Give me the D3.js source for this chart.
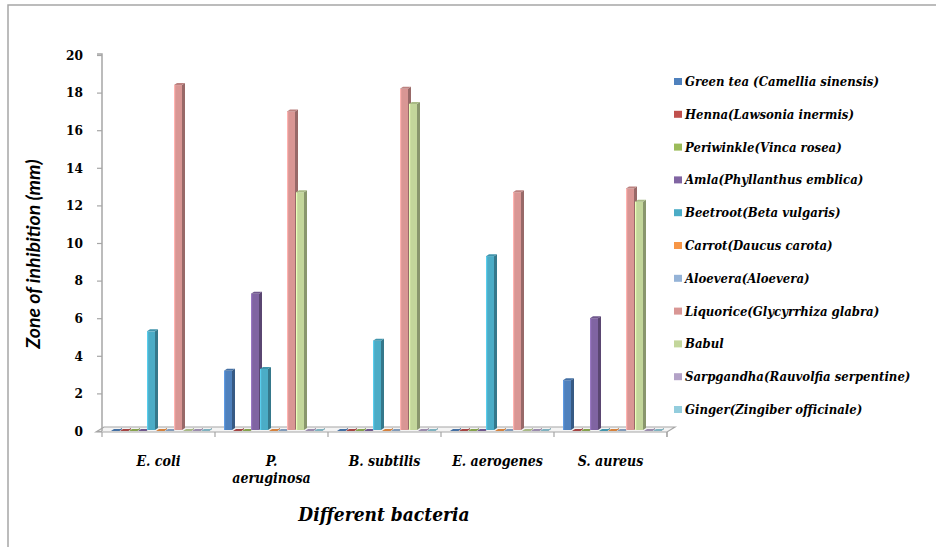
<!DOCTYPE html>
<html>
<head>
<meta charset="utf-8">
<script src="https://cdn.jsdelivr.net/npm/d3@7"></script>
<style>
  html, body { margin: 0; padding: 0; background: #fff; }
  svg { display: block; }
</style>
</head>
<body>
<svg id="chart" width="936" height="547"></svg>
<script>
// Bacteria tested (x-axis groups)
const bacteria = [["E. coli"], ["P.", "aeruginosa"], ["B. subtilis"], ["E. aerogenes"], ["S. aureus"]];

// Plant extracts (legend order)
const extracts = [
  "Green tea (Camellia sinensis)",
  "Henna(Lawsonia inermis)",
  "Periwinkle(Vinca rosea)",
  "Amla(Phyllanthus emblica)",
  "Beetroot(Beta vulgaris)",
  "Carrot(Daucus carota)",
  "Aloevera(Aloevera)",
  "Liquorice(Glycyrrhiza glabra)",
  "Babul",
  "Sarpgandha(Rauvolfia serpentine)",
  "Ginger(Zingiber officinale)"
];

const extractColors = ["#4F81BD", "#C0504D", "#9BBB59", "#8064A2", "#4BACC6", "#F79646",
                       "#95B3D7", "#D99694", "#C3D69B", "#B3A2C7", "#93CDDD"];

// Zone of inhibition (mm) for each extract, one value per bacterium
const greenTea   = [0, 3.2, 0, 0, 2.7];
const henna      = [0, 0, 0, 0, 0];
const periwinkle = [0, 0, 0, 0, 0];
const amla       = [0, 7.3, 0, 0, 6.0];
const beetroot   = [5.3, 3.3, 4.8, 9.3, 0];
const carrot     = [0, 0, 0, 0, 0];
const aloevera   = [0, 0, 0, 0, 0];
const liquorice  = [18.4, 17.0, 18.2, 12.7, 12.9];
const babul      = [0, 12.7, 17.4, 0, 12.2];
const sarpgandha = [0, 0, 0, 0, 0];
const ginger     = [0, 0, 0, 0, 0];

const yTicks = [0, 2, 4, 6, 8, 10, 12, 14, 16, 18, 20];

const seriesValues = [greenTea, henna, periwinkle, amla, beetroot, carrot,
                      aloevera, liquorice, babul, sarpgandha, ginger];

const svg = d3.select("#chart");
const serif = "'DejaVu Serif Condensed', 'DejaVu Serif', serif";

// Outer frame (top and left edges)
svg.append("path")
  .attr("d", "M8,547 L8,5 L936,5")
  .attr("fill", "none").attr("stroke", "#a6a6a6").attr("stroke-width", 1.5);

const plotLeft = 102, plotRight = 667, y0 = 431, yTop = 55;
const depthX = 8, depthY = 5;

const y = d3.scaleLinear().domain([0, 20]).range([y0, yTop]);
const x = d3.scaleBand().domain(d3.range(bacteria.length)).range([plotLeft, plotRight]);
const xs = d3.scaleBand().domain(d3.range(extracts.length))
  .range([9, 9 + 9 * extracts.length]);

// Floor of the 3-D plot
svg.append("path")
  .attr("d", `M${plotLeft - 6},${y0 + 1} L${plotRight},${y0 + 1} L${plotRight + depthX},${y0 + 1 - depthY} L${plotLeft + depthX - 6},${y0 + 1 - depthY} Z`)
  .attr("fill", "#f4f4f4").attr("stroke", "#a6a6a6").attr("stroke-width", 1.2);
svg.append("line")
  .attr("x1", plotRight).attr("x2", plotRight)
  .attr("y1", y0 + 1).attr("y2", y0 + 6)
  .attr("stroke", "#a6a6a6").attr("stroke-width", 1.2);

// Y axis
const yAxis = d3.axisLeft(y).tickValues(yTicks).tickSize(5).tickPadding(14);
const gy = svg.append("g").attr("transform", `translate(${plotLeft},0)`).call(yAxis);
gy.select(".domain").attr("stroke", "#a6a6a6").attr("stroke-width", 1.5)
  .attr("d", `M${-0},${y0} V${yTop - 1} H${-5}`);
gy.selectAll(".tick line").attr("stroke", "#a6a6a6").attr("stroke-width", 1.2);
gy.selectAll(".tick text")
  .attr("font-family", serif).attr("font-weight", "bold").attr("font-size", 13.5)
  .attr("fill", "#000");

// X group ticks
const boundaries = d3.range(bacteria.length + 1).map(i => plotLeft + i * x.step());
svg.selectAll(".gtick").data(boundaries).join("line")
  .attr("x1", d => d).attr("x2", d => d)
  .attr("y1", y0 + 1).attr("y2", y0 + 6)
  .attr("stroke", "#a6a6a6").attr("stroke-width", 1.2);

// 3-D columns
const barW = 8, sideW = 3, topH = 2;
const bars = [];
bacteria.forEach((b, gi) => {
  extracts.forEach((e, si) => {
    bars.push({ gi, si, v: seriesValues[si][gi] });
  });
});

const gBars = svg.append("g");
bars.forEach(d => {
  const bx = x(d.gi) + xs(d.si);
  const by = y(d.v);
  const base = y0 - 1;
  const c = d3.color(extractColors[d.si]);
  const g = gBars.append("g");
  // front face
  if (base - by > 0) {
    g.append("rect").attr("x", bx).attr("y", by).attr("width", barW).attr("height", base - by)
      .attr("fill", c.formatHex());
    g.append("rect").attr("x", bx).attr("y", by).attr("width", 1.2).attr("height", base - by)
      .attr("fill", c.brighter(0.5).formatHex());
  }
  // right side face
  g.append("path")
    .attr("d", `M${bx + barW},${by} L${bx + barW + sideW},${by - topH} L${bx + barW + sideW},${base - topH} L${bx + barW},${base} Z`)
    .attr("fill", c.darker(1).formatHex());
  // top face
  g.append("path")
    .attr("d", `M${bx},${by} L${bx + barW},${by} L${bx + barW + sideW},${by - topH} L${bx + sideW},${by - topH} Z`)
    .attr("fill", c.darker(0.4).formatHex());
});

// X labels
bacteria.forEach((lines, i) => {
  const t = svg.append("text")
    .attr("x", x(i) + x.bandwidth() / 2).attr("y", 466)
    .attr("text-anchor", "middle")
    .attr("font-family", serif).attr("font-weight", "bold").attr("font-style", "italic")
    .attr("font-size", 14).attr("fill", "#000");
  lines.forEach((l, k) => {
    t.append("tspan").attr("x", x(i) + x.bandwidth() / 2).attr("dy", k === 0 ? 0 : 17).text(l);
  });
});

// Axis titles
svg.append("text")
  .attr("x", 384).attr("y", 521).attr("text-anchor", "middle")
  .attr("font-family", serif).attr("font-weight", "bold").attr("font-style", "italic")
  .attr("font-size", 19).attr("fill", "#000")
  .text("Different bacteria");

svg.append("text")
  .attr("transform", "translate(40,254) rotate(-90)")
  .attr("text-anchor", "middle")
  .attr("font-family", "Lato, 'Open Sans', sans-serif").attr("font-weight", "bold").attr("font-style", "italic")
  .attr("font-size", 19.5).attr("fill", "#000")
  .text("Zone of inhibition (mm)");

// Legend
const legend = svg.append("g");
extracts.forEach((name, i) => {
  const ly = 81.5 + i * 32.8;
  legend.append("rect").attr("x", 674).attr("y", ly - 3.5).attr("width", 8).attr("height", 7)
    .attr("fill", extractColors[i]);
  legend.append("text").attr("x", 685).attr("y", ly + 4.5)
    .attr("font-family", serif).attr("font-weight", "bold").attr("font-style", "italic")
    .attr("font-size", 13).attr("fill", "#000")
    .text(name);
});
</script>
</body>
</html>
